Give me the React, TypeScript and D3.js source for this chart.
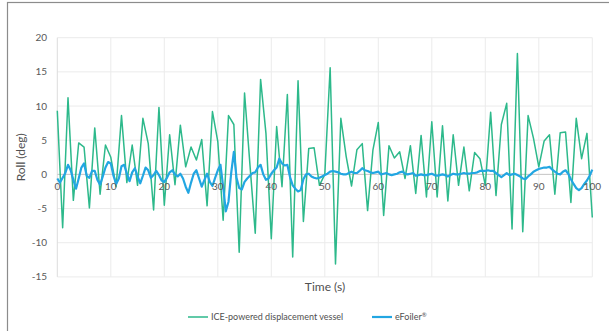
import * as d3 from "d3";

// ICE-powered displacement vessel, one sample per second (t = 0..100)
const iceRoll = [
  9.3, -7.8, 11.2, -3.8, 4.6, 4.0, -4.9, 6.8, -2.9, 4.3,
  2.5, -1.8, 8.6, -1.2, 4.3, -1.6, 8.2, 4.5, -5.2, 9.8,
  -4.5, 5.8, -1.5, 7.2, 1.1, 4.0, 2.1, 5.1, -4.6, 9.2,
  4.8, -6.7, 8.6, 7.3, -11.4, 11.9, 1.5, -8.6, 13.9, 6.0,
  -9.4, 7.0, -1.8, 11.7, -12.1, 13.7, -6.9, 3.8, 3.9, -1.6,
  0.0, 15.6, -13.1, 8.2, 2.6, -1.7, 3.6, 4.5, -5.3, 3.6,
  7.6, -6.0, 4.2, 2.4, 3.3, -0.6, 4.2, -2.8, 5.7, -3.3,
  7.7, -3.3, 7.1, -3.9, 5.8, -1.6, 4.0, -2.4, 3.2, 2.3,
  -1.6, 9.1, -3.1, 7.3, 10.4, -8.0, 17.7, -8.4, 8.6, 5.3,
  1.1, 4.9, 5.8, -2.9, 6.1, 6.2, -4.1, 8.2, 2.3, 6.0,
  -6.3,
];

// eFoiler, one sample every half second (t = 0..100)
const efoilRoll = [
  -0.6, -1.2, -0.5, 0.2, 1.4, 0.6, -0.8, -2.1, -0.6, 1.0,
  1.6, -0.2, -0.5, 0.5, 0.5, -0.8, -1.5, -0.3, 1.0, 1.8,
  1.6, -0.2, -1.4, -0.6, 1.2, 1.4, 0.1, -1.0, 0.3, 0.9,
  -0.3, -1.3, -0.2, 1.0, 0.6, -0.5, -0.1, 0.5, -0.1, -0.9,
  -1.1, -0.5, 0.3, 0.6, 0.0, -0.3, 0.1, -0.6, -1.8, -2.7,
  -1.2, 0.1, 0.6, -0.6, -1.8, -0.8, 0.1, -1.1, -1.7, -0.5,
  0.6, 1.4, -1.8, -5.4, -4.0, 0.2, 3.3, -0.5, -2.0, -2.2,
  -1.1, -0.6, -0.2, 0.2, 0.3, 1.0, 1.4, 0.0, -0.8, -0.6,
  0.1, 0.6, 1.0, 2.3, 1.6, 1.3, 1.4, -0.4, -1.6, -2.1,
  -2.5, -2.3, -0.7, 0.0, 0.1, -0.3, -0.5, -0.6, -0.5, -0.3,
  -0.1, 0.1, 0.4, 0.5, 0.4, 0.3, 0.1, 0.0, 0.0, 0.2,
  0.4, 0.2, 0.2, 0.5, 0.9, 0.6, 0.5, 0.3, 0.2, 0.3,
  0.4, 0.0, 0.1, 0.2, 0.0, -0.1, 0.0, 0.1, 0.3, 0.4,
  0.1, 0.0, 0.1, 0.2, -0.2, -0.1, 0.0, -0.1, -0.1, 0.0,
  0.1, -0.1, -0.2, -0.1, 0.0, -0.1, -0.3, -0.1, 0.1, 0.0,
  0.0, 0.1, 0.2, 0.1, 0.1, 0.2, 0.2, 0.3, 0.5, 0.5,
  0.5, 0.6, 0.5, 0.5, 0.2, -0.1, -0.4, -0.1, 0.2, -0.1,
  0.0, 0.1, -0.1, -0.3, -0.6, -0.7, -0.3, 0.0, 0.4, 0.6,
  0.8, 0.9, 1.0, 1.0, 1.1, 0.7, 0.4, 0.1, 0.0, 0.4,
  0.6, 0.1, -0.7, -1.4, -2.0, -2.3, -2.0, -1.4, -0.9, -0.2,
  0.7,
];

const xTicks = [0, 10, 20, 30, 40, 50, 60, 70, 80, 90, 100];
const yTicks = [-15, -10, -5, 0, 5, 10, 15, 20];

const green = "#2db98b";
const blue = "#22a6e2";

const FONT = "Lato, 'Open Sans', sans-serif";

export default function App() {
  const W = 609;
  const H = 331;
  const x = d3.scaleLinear().domain([0, 100]).range([57.3, 592.3]);
  const y = d3.scaleLinear().domain([-15, 20]).range([276.9, 37.7]);

  const iceLine = d3
    .line<number>()
    .x((_, i) => x(i))
    .y((d) => y(d));
  const efoilLine = d3
    .line<number>()
    .x((_, i) => x(i * 0.5))
    .y((d) => y(d));

  return (
    <svg
      width={W}
      height={H}
      style={{ position: "absolute", left: 0, top: 0, display: "block", background: "#fff" }}
    >
      {/* chart frame */}
      <rect x={7.5} y={2.5} width={700} height={400} fill="#fff" stroke="#8c8c8c" strokeWidth={1.2} />

      {/* gridlines */}
      {yTicks.map((t) => (
        <line
          key={"gy" + t}
          x1={x(0)}
          x2={x(100)}
          y1={y(t)}
          y2={y(t)}
          stroke="#ebebeb"
          strokeWidth={1}
        />
      ))}
      {xTicks.map((t) => (
        <line
          key={"gx" + t}
          x1={x(t)}
          x2={x(t)}
          y1={y(20)}
          y2={y(-15)}
          stroke={t === 0 ? "#dcdcdc" : "#ebebeb"}
          strokeWidth={1}
        />
      ))}
      <line x1={x(0)} x2={x(100)} y1={y(0)} y2={y(0)} stroke="#c8c8c8" strokeWidth={1} />

      {/* y tick labels */}
      {yTicks.map((t) => (
        <text
          key={"ty" + t}
          x={47}
          y={y(t)}
          dy="0.35em"
          textAnchor="end"
          fontFamily={FONT}
          fontSize={10}
          fill="#595959"
        >
          {t}
        </text>
      ))}

      {/* series */}
      <path d={iceLine(iceRoll) ?? ""} fill="none" stroke={green} strokeWidth={1.5} strokeLinejoin="round" />
      <path d={efoilLine(efoilRoll) ?? ""} fill="none" stroke={blue} strokeWidth={2.2} strokeLinejoin="round" />

      {/* x tick labels sit under the zero line */}
      {xTicks.map((t) => (
        <text
          key={"tx" + t}
          x={x(t)}
          y={y(0) + 16}
          textAnchor="middle"
          fontFamily={FONT}
          fontSize={10}
          fill="#595959"
        >
          {t}
        </text>
      ))}

      {/* axis titles */}
      <text x={325} y={291} textAnchor="middle" fontFamily={FONT} fontSize={12} fill="#505050">
        Time (s)
      </text>
      <text
        transform={`translate(25,${(y(20) + y(-15)) / 2}) rotate(-90)`}
        textAnchor="middle"
        fontFamily={FONT}
        fontSize={12}
        fill="#505050"
      >
        Roll (deg)
      </text>

      {/* legend */}
      <line x1={188} x2={208} y1={317} y2={317} stroke={green} strokeWidth={1.5} />
      <text x={211} y={320} fontFamily={FONT} fontSize={9} fill="#505050">
        ICE-powered displacement vessel
      </text>
      <line x1={372} x2={392} y1={317} y2={317} stroke={blue} strokeWidth={2.2} />
      <text x={395} y={320} fontFamily={FONT} fontSize={9} fill="#505050">
        eFoiler
        <tspan fontSize={6} dy={-3}>
          ®
        </tspan>
      </text>
    </svg>
  );
}
